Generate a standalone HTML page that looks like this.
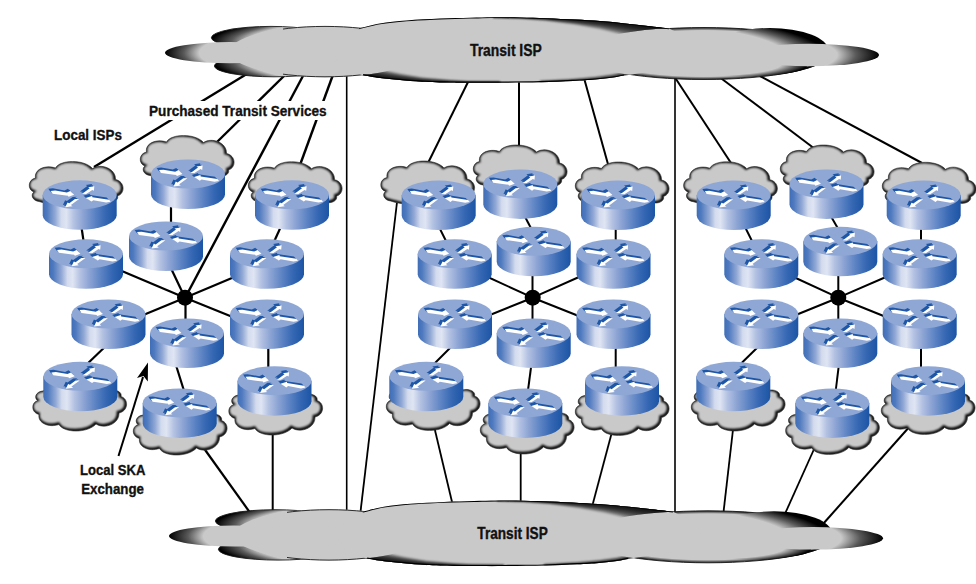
<!DOCTYPE html>
<html lang="en"><head><meta charset="utf-8"><title>Local SKA Exchange - Transit ISP diagram</title>
<style>
html,body{margin:0;padding:0;background:#fff;}
body{width:976px;height:584px;overflow:hidden;}
svg{display:block;}
text{font-family:"Liberation Sans",sans-serif;font-weight:bold;fill:#111;stroke:#111;stroke-width:0.35px;}
</style></head><body>
<svg width="976" height="584" viewBox="0 0 976 584">
<defs>
<linearGradient id="body" x1="0" y1="0" x2="1" y2="0">
<stop offset="0" stop-color="#3f6db7"/><stop offset="0.06" stop-color="#4f7abf"/>
<stop offset="0.17" stop-color="#93a9d6"/><stop offset="0.25" stop-color="#d3dbee"/>
<stop offset="0.32" stop-color="#dfe5f3"/><stop offset="0.42" stop-color="#b4c2e2"/>
<stop offset="0.55" stop-color="#8ba3d3"/><stop offset="0.7" stop-color="#5d84c4"/>
<stop offset="0.85" stop-color="#3567b3"/><stop offset="1" stop-color="#1c55a5"/>
</linearGradient>
<filter id="blur" x="-20%" y="-20%" width="140%" height="140%"><feGaussianBlur stdDeviation="1.3"/></filter>
<path id="cloudshape" d="M10,40 C3,39 1.5,33 5,30.5 C-2,28 -1,18 6.5,16.5 C5,8 16,3 26.5,6.5 C31,-2 55,-2.5 63.5,7 C72,1.5 87,7 86.5,18 C96,20 96.5,32 88.5,34.5 C90,39 83,42.5 76,40.5 C66,44 52,44 46,41.5 C36,44 22,44 10,40 Z"/>
<clipPath id="cloudclip"><use href="#cloudshape"/></clipPath>
<g id="cloud">
<use href="#cloudshape" fill="#c9c9c9"/>
<g clip-path="url(#cloudclip)"><use href="#cloudshape" fill="none" stroke="#000" stroke-width="3.2" filter="url(#blur)" transform="translate(-0.7,-0.6)"/></g>
<use href="#cloudshape" fill="none" stroke="#2a2a2a" stroke-width="0.6"/>
</g>
<g id="cloudf" transform="scale(1,-1)">
<use href="#cloudshape" fill="#c9c9c9"/>
<g clip-path="url(#cloudclip)"><use href="#cloudshape" fill="none" stroke="#000" stroke-width="3.2" filter="url(#blur)" transform="translate(-0.7,0.6)"/></g>
<use href="#cloudshape" fill="none" stroke="#2a2a2a" stroke-width="0.6"/>
</g>
<g id="arrows">
<polygon points="8,10.6 12.5,10.2 24.2,12.3 27.6,10.6 31.4,14.4 26,16.4 25,15.4 10,13.4"/>
<polygon points="39.6,13.5 43.4,13.6 49.6,9.6 51.2,10.4 51.6,6 45.4,7 47,8"/>
<polygon points="68,21.4 63.5,22.2 50.6,19.9 48.8,21.3 43,17.6 49.4,15.6 49.7,16.9 66.4,19.5"/>
<polygon points="36.4,18.7 32.3,18.8 26.6,23 24.8,22.1 22.6,26.9 29.8,25.9 28.2,24.8"/>
</g>
<g id="router">
<path d="M0,14.5 L0,35 A37,14.5 0 0 0 74,35 L74,14.5 Z" fill="url(#body)"/>
<ellipse cx="37" cy="14.5" rx="37" ry="14.5" fill="#8fa7d5"/>
<use href="#arrows" fill="#1f57a7" transform="translate(-2.4,-2.2)"/>
<use href="#arrows" fill="#1f57a7" transform="translate(-1.2,-1.1)"/>
<use href="#arrows" fill="#fff"/>
</g>

<radialGradient id="gUL" gradientUnits="userSpaceOnUse" cx="0" cy="0" r="1" gradientTransform="translate(430,42) scale(219,30)"><stop offset="0" stop-color="#c9c9c9"/><stop offset="0.83" stop-color="#c9c9c9"/><stop offset="0.906" stop-color="#5a5a5a"/><stop offset="1" stop-color="#000"/></radialGradient>
<radialGradient id="gLL" gradientUnits="userSpaceOnUse" cx="0" cy="0" r="1" gradientTransform="translate(430,62) scale(216,30)"><stop offset="0" stop-color="#c9c9c9"/><stop offset="0.83" stop-color="#c9c9c9"/><stop offset="0.906" stop-color="#5a5a5a"/><stop offset="1" stop-color="#000"/></radialGradient>
<radialGradient id="gML" gradientUnits="userSpaceOnUse" cx="0" cy="0" r="1" gradientTransform="translate(430,53) scale(265,40)"><stop offset="0" stop-color="#c9c9c9"/><stop offset="0.87" stop-color="#c9c9c9"/><stop offset="0.928" stop-color="#5a5a5a"/><stop offset="1" stop-color="#000"/></radialGradient>
<radialGradient id="gFR" gradientUnits="userSpaceOnUse" cx="0" cy="0" r="1" gradientTransform="translate(600,55) scale(279,40)"><stop offset="0" stop-color="#c9c9c9"/><stop offset="0.85" stop-color="#c9c9c9"/><stop offset="0.917" stop-color="#5a5a5a"/><stop offset="1" stop-color="#000"/></radialGradient>
<radialGradient id="gLB" gradientUnits="userSpaceOnUse" cx="0" cy="0" r="1" gradientTransform="translate(430,52) scale(205,29)"><stop offset="0" stop-color="#c9c9c9"/><stop offset="0.86" stop-color="#c9c9c9"/><stop offset="0.923" stop-color="#5a5a5a"/><stop offset="1" stop-color="#000"/></radialGradient>
<radialGradient id="gRE" gradientUnits="userSpaceOnUse" cx="0" cy="0" r="1" gradientTransform="translate(704,53.5) scale(126,26.4)"><stop offset="0" stop-color="#c9c9c9"/><stop offset="0.87" stop-color="#c9c9c9"/><stop offset="0.942" stop-color="#5a5a5a"/><stop offset="1" stop-color="#000"/></radialGradient>
<radialGradient id="gRE2" gradientUnits="userSpaceOnUse" cx="0" cy="0" r="1" gradientTransform="translate(640,60) scale(190,45)"><stop offset="0" stop-color="#c9c9c9"/><stop offset="0.79" stop-color="#c9c9c9"/><stop offset="0.895" stop-color="#5a5a5a"/><stop offset="1" stop-color="#000"/></radialGradient>
<radialGradient id="gLR" gradientUnits="userSpaceOnUse" cx="0" cy="0" r="1" gradientTransform="translate(700,64) scale(108,16)"><stop offset="0" stop-color="#c9c9c9"/><stop offset="0.75" stop-color="#c9c9c9"/><stop offset="0.887" stop-color="#5a5a5a"/><stop offset="1" stop-color="#000"/></radialGradient>
<linearGradient id="gREr" gradientUnits="userSpaceOnUse" x1="755" y1="0" x2="826" y2="0"><stop offset="0" stop-color="#000" stop-opacity="0"/><stop offset="0.45" stop-color="#000" stop-opacity="0.6"/><stop offset="1" stop-color="#000" stop-opacity="1"/></linearGradient>
<filter id="b1" x="-10%" y="-50%" width="120%" height="200%"><feGaussianBlur stdDeviation="0.6"/></filter>
<filter id="b3" x="-10%" y="-50%" width="120%" height="200%"><feGaussianBlur stdDeviation="1.0"/></filter>
<filter id="b2" x="-10%" y="-50%" width="120%" height="200%"><feGaussianBlur stdDeviation="1.6"/></filter>
<path id="cshape" d="M358.6,28.4 C362.2,27.6 372.0,24.7 380.0,23.4 C388.0,22.1 396.7,21.2 406.7,20.4 C416.7,19.6 429.4,19.1 440.0,18.6 C450.6,18.2 461.2,17.9 470.0,17.7 C478.8,17.5 484.7,17.2 493.0,17.2 C501.3,17.1 511.2,17.2 520.0,17.4 C528.8,17.6 536.8,17.8 546.0,18.2 C555.2,18.6 566.0,19.1 575.0,19.6 C584.0,20.1 591.7,20.5 600.0,21.1 C608.3,21.7 617.0,22.6 625.0,23.4 C633.0,24.2 640.7,25.2 648.0,26.0 C655.3,26.8 665.5,28.0 669.0,28.4 C672.2,30.0 683.5,34.1 688.0,38.0 C692.5,41.9 697.3,47.3 696.0,52.0 C694.7,56.7 692.0,62.1 680.0,66.0 C668.0,69.9 633.3,74.0 624.0,75.6 C622.2,75.9 617.8,76.9 613.0,77.6 C608.2,78.3 601.7,79.0 595.0,79.6 C588.3,80.2 582.2,80.5 573.0,81.0 C563.8,81.5 552.2,82.0 540.0,82.3 C527.8,82.6 512.2,82.7 500.0,82.8 C487.8,82.9 475.3,82.8 467.0,82.8 C458.7,82.8 457.5,82.8 450.0,82.6 C442.5,82.4 430.3,82.1 422.0,81.7 C413.7,81.3 407.0,80.6 400.0,80.0 C393.0,79.4 386.2,78.8 380.0,78.0 C373.8,77.2 365.8,75.8 363.0,75.3 C359.5,73.8 346.8,69.9 342.0,66.0 C337.2,62.1 334.0,56.7 334.0,52.0 C334.0,47.3 337.9,41.9 342.0,38.0 C346.1,34.1 355.8,30.0 358.6,28.4 Z"/>
<clipPath id="cclip"><use href="#cshape"/></clipPath>
<clipPath id="xr"><rect x="283" y="0" width="300" height="100"/></clipPath>
<clipPath id="notLL"><path clip-rule="evenodd" d="M0,0 H976 V100 H0 Z M230,51.6 a95,25.6 0 1,0 190,0 a95,25.6 0 1,0 -190,0 Z"/></clipPath>
<clipPath id="notRE"><path clip-rule="evenodd" d="M0,0 H976 V100 H0 Z M578,53.5 a126,26.4 0 1,0 252,0 a126,26.4 0 1,0 -252,0 Z"/></clipPath>
<g id="bigcloud">
<ellipse cx="704" cy="53.5" rx="125.6" ry="26" fill="url(#gRE)" stroke="#1a1a1a" stroke-width="0.9"/>
<ellipse cx="704" cy="53.5" rx="126" ry="26.4" fill="url(#gREr)"/>
<ellipse cx="770" cy="50" rx="58" ry="22" fill="url(#gRE2)"/>
<ellipse cx="745" cy="66" rx="62" ry="10" fill="url(#gLR)"/>
<ellipse cx="809" cy="55" rx="70" ry="11.2" fill="url(#gFR)"/>
<ellipse cx="271" cy="37.7" rx="59.6" ry="11.3" fill="url(#gUL)" stroke="#1a1a1a" stroke-width="0.9"/>
<ellipse cx="274" cy="66" rx="59.6" ry="10.8" fill="url(#gLL)" stroke="#1a1a1a" stroke-width="0.9"/>
<ellipse cx="325" cy="51.6" rx="95" ry="25.6" fill="#c9c9c9"/>
<ellipse cx="325" cy="51.6" rx="94.6" ry="25.2" fill="none" stroke="#1a1a1a" stroke-width="0.9" clip-path="url(#xr)"/>
<ellipse cx="230" cy="52.7" rx="65" ry="10.6" fill="url(#gML)"/>
<ellipse cx="300" cy="52.7" rx="60" ry="10.6" fill="#c9c9c9"/>
<use href="#cshape" fill="#c9c9c9"/>
<g clip-path="url(#cclip)">
<path d="M358.6,28.4 C362.2,27.6 372.0,24.7 380.0,23.4 C388.0,22.1 396.7,21.2 406.7,20.4 C416.7,19.6 429.4,19.1 440.0,18.6 C450.6,18.2 461.2,17.9 470.0,17.7 C478.8,17.5 484.7,17.2 493.0,17.2 C501.3,17.1 511.2,17.2 520.0,17.4 C528.8,17.6 536.8,17.8 546.0,18.2 C555.2,18.6 566.0,19.1 575.0,19.6 C584.0,20.1 591.7,20.5 600.0,21.1 C608.3,21.7 617.0,22.6 625.0,23.4 C633.0,24.2 640.7,25.2 648.0,26.0 C655.3,26.8 665.5,28.0 669.0,28.4" fill="none" stroke="#000" stroke-width="1.8" filter="url(#b1)"/>
<path d="M624.0,75.6 C622.2,75.9 617.8,76.9 613.0,77.6 C608.2,78.3 601.7,79.0 595.0,79.6 C588.3,80.2 582.2,80.5 573.0,81.0 C563.8,81.5 552.2,82.0 540.0,82.3 C527.8,82.6 512.2,82.7 500.0,82.8 C487.8,82.9 475.3,82.8 467.0,82.8 C458.7,82.8 457.5,82.8 450.0,82.6 C442.5,82.4 430.3,82.1 422.0,81.7 C413.7,81.3 407.0,80.6 400.0,80.0 C393.0,79.4 386.2,78.8 380.0,78.0 C373.8,77.2 365.8,75.8 363.0,75.3" fill="none" stroke="#000" stroke-width="2.4" filter="url(#b1)"/>
<g clip-path="url(#notRE)">
<path d="M493.0,14.2 C497.5,14.2 511.2,14.2 520.0,14.4 C528.8,14.6 536.8,14.8 546.0,15.2 C555.2,15.6 566.0,16.1 575.0,16.6 C584.0,17.1 591.7,17.5 600.0,18.1 C608.3,18.7 617.0,19.6 625.0,20.4 C633.0,21.2 640.7,22.2 648.0,23.0 C655.3,23.8 662.0,24.4 669.0,25.4 C676.0,26.4 686.5,28.4 690.0,29.0 L690.0,51.0 L669.0,44.9 L648.0,40.0 L625.0,34.9 L600.0,29.1 L575.0,24.6 L546.0,20.7 L520.0,18.6 L493.0,17.7 Z" fill="#000" fill-opacity="0.35" filter="url(#b3)"/>
<path d="M493.0,14.2 C497.5,14.2 511.2,14.2 520.0,14.4 C528.8,14.6 536.8,14.8 546.0,15.2 C555.2,15.6 566.0,16.1 575.0,16.6 C584.0,17.1 591.7,17.5 600.0,18.1 C608.3,18.7 617.0,19.6 625.0,20.4 C633.0,21.2 640.7,22.2 648.0,23.0 C655.3,23.8 662.0,24.4 669.0,25.4 C676.0,26.4 686.5,28.4 690.0,29.0 L690.0,46.8 L669.0,41.3 L648.0,36.9 L625.0,32.4 L600.0,27.3 L575.0,23.5 L546.0,20.1 L520.0,18.3 L493.0,17.6 Z" fill="#000" fill-opacity="0.35" filter="url(#b3)"/>
<path d="M493.0,14.2 C497.5,14.2 511.2,14.2 520.0,14.4 C528.8,14.6 536.8,14.8 546.0,15.2 C555.2,15.6 566.0,16.1 575.0,16.6 C584.0,17.1 591.7,17.5 600.0,18.1 C608.3,18.7 617.0,19.6 625.0,20.4 C633.0,21.2 640.7,22.2 648.0,23.0 C655.3,23.8 662.0,24.4 669.0,25.4 C676.0,26.4 686.5,28.4 690.0,29.0 L690.0,42.6 L669.0,37.6 L648.0,33.8 L625.0,29.8 L600.0,25.6 L575.0,22.4 L546.0,19.6 L520.0,18.1 L493.0,17.5 Z" fill="#000" fill-opacity="0.35" filter="url(#b3)"/>
<path d="M493.0,14.2 C497.5,14.2 511.2,14.2 520.0,14.4 C528.8,14.6 536.8,14.8 546.0,15.2 C555.2,15.6 566.0,16.1 575.0,16.6 C584.0,17.1 591.7,17.5 600.0,18.1 C608.3,18.7 617.0,19.6 625.0,20.4 C633.0,21.2 640.7,22.2 648.0,23.0 C655.3,23.8 662.0,24.4 669.0,25.4 C676.0,26.4 686.5,28.4 690.0,29.0 L690.0,38.8 L669.0,34.3 L648.0,31.0 L625.0,27.5 L600.0,24.0 L575.0,21.4 L546.0,19.1 L520.0,17.8 L493.0,17.4 Z" fill="#000" fill-opacity="0.35" filter="url(#b3)"/>
<path d="M493.0,14.2 C497.5,14.2 511.2,14.2 520.0,14.4 C528.8,14.6 536.8,14.8 546.0,15.2 C555.2,15.6 566.0,16.1 575.0,16.6 C584.0,17.1 591.7,17.5 600.0,18.1 C608.3,18.7 617.0,19.6 625.0,20.4 C633.0,21.2 640.7,22.2 648.0,23.0 C655.3,23.8 662.0,24.4 669.0,25.4 C676.0,26.4 686.5,28.4 690.0,29.0 L690.0,35.4 L669.0,31.4 L648.0,28.5 L625.0,25.5 L600.0,22.5 L575.0,20.5 L546.0,18.6 L520.0,17.6 L493.0,17.3 Z" fill="#000" fill-opacity="0.35" filter="url(#b3)"/>
<path d="M540.0,85.3 C545.5,85.1 563.8,84.5 573.0,84.0 C582.2,83.5 588.3,83.2 595.0,82.6 C601.7,82.0 608.2,81.3 613.0,80.6 C617.8,79.9 620.8,79.3 624.0,78.6 C627.2,77.9 630.7,76.8 632.0,76.5 L632.0,69.5 L624.0,72.0 L613.0,74.4 L595.0,77.0 L573.0,79.0 L540.0,80.8 Z" fill="#000" fill-opacity="0.5" filter="url(#b3)"/>
<path d="M540.0,85.3 C545.5,85.1 563.8,84.5 573.0,84.0 C582.2,83.5 588.3,83.2 595.0,82.6 C601.7,82.0 608.2,81.3 613.0,80.6 C617.8,79.9 620.8,79.3 624.0,78.6 C627.2,77.9 630.7,76.8 632.0,76.5 L632.0,71.1 L624.0,73.4 L613.0,75.7 L595.0,78.0 L573.0,79.8 L540.0,81.4 Z" fill="#000" fill-opacity="0.5" filter="url(#b3)"/>
</g>
<g clip-path="url(#notLL)">
<path d="M350.0,74.0 C352.2,74.7 358.0,77.1 363.0,78.3 C368.0,79.5 373.8,80.2 380.0,81.0 C386.2,81.8 393.0,82.4 400.0,83.0 C407.0,83.6 413.7,84.3 422.0,84.7 C430.3,85.1 442.5,85.4 450.0,85.6 C457.5,85.8 458.7,85.8 467.0,85.8 C475.3,85.8 494.5,85.8 500.0,85.8 L500.0,81.3 L467.0,81.0 L450.0,80.0 L422.0,77.5 L400.0,73.7 L380.0,69.5 L363.0,64.8 L350.0,59.0 Z" fill="#000" fill-opacity="0.4" filter="url(#b3)"/>
<path d="M350.0,74.0 C352.2,74.7 358.0,77.1 363.0,78.3 C368.0,79.5 373.8,80.2 380.0,81.0 C386.2,81.8 393.0,82.4 400.0,83.0 C407.0,83.6 413.7,84.3 422.0,84.7 C430.3,85.1 442.5,85.4 450.0,85.6 C457.5,85.8 458.7,85.8 467.0,85.8 C475.3,85.8 494.5,85.8 500.0,85.8 L500.0,81.7 L467.0,81.5 L450.0,80.6 L422.0,78.5 L400.0,75.3 L380.0,71.6 L363.0,67.4 L350.0,62.0 Z" fill="#000" fill-opacity="0.4" filter="url(#b3)"/>
<path d="M350.0,74.0 C352.2,74.7 358.0,77.1 363.0,78.3 C368.0,79.5 373.8,80.2 380.0,81.0 C386.2,81.8 393.0,82.4 400.0,83.0 C407.0,83.6 413.7,84.3 422.0,84.7 C430.3,85.1 442.5,85.4 450.0,85.6 C457.5,85.8 458.7,85.8 467.0,85.8 C475.3,85.8 494.5,85.8 500.0,85.8 L500.0,82.0 L467.0,81.9 L450.0,81.3 L422.0,79.6 L400.0,76.8 L380.0,73.8 L363.0,70.0 L350.0,65.0 Z" fill="#000" fill-opacity="0.4" filter="url(#b3)"/>
<path d="M350.0,74.0 C352.2,74.7 358.0,77.1 363.0,78.3 C368.0,79.5 373.8,80.2 380.0,81.0 C386.2,81.8 393.0,82.4 400.0,83.0 C407.0,83.6 413.7,84.3 422.0,84.7 C430.3,85.1 442.5,85.4 450.0,85.6 C457.5,85.8 458.7,85.8 467.0,85.8 C475.3,85.8 494.5,85.8 500.0,85.8 L500.0,82.4 L467.0,82.3 L450.0,81.9 L422.0,80.5 L400.0,78.2 L380.0,75.6 L363.0,72.4 L350.0,67.6 Z" fill="#000" fill-opacity="0.4" filter="url(#b3)"/>
</g>
</g></g>
</defs>
<rect width="976" height="584" fill="#fff"/>
<g stroke="#000" stroke-linecap="butt" fill="none">
<line x1="250" y1="72" x2="94" y2="167" stroke-width="2.4"/>
<line x1="286" y1="74" x2="216" y2="143" stroke-width="2.4"/>
<line x1="304" y1="74" x2="185" y2="298" stroke-width="2.4"/>
<line x1="334" y1="72" x2="300" y2="165" stroke-width="2.4"/>
<line x1="346.7" y1="70" x2="346.7" y2="515" stroke-width="1.6"/>
<line x1="79.7" y1="215" x2="85.3" y2="253" stroke-width="2.2"/>
<line x1="171" y1="200" x2="171" y2="230" stroke-width="2.2"/>
<line x1="283" y1="222" x2="273" y2="244" stroke-width="2.2"/>
<line x1="110" y1="266" x2="185" y2="297.7" stroke-width="2.2"/>
<line x1="168" y1="262" x2="185" y2="297.7" stroke-width="2.2"/>
<line x1="245" y1="272.5" x2="185" y2="297.7" stroke-width="2.2"/>
<line x1="185" y1="297.7" x2="130" y2="320.5" stroke-width="2.2"/>
<line x1="185.5" y1="297.7" x2="185.5" y2="325" stroke-width="2.2"/>
<line x1="185" y1="297.7" x2="245" y2="322" stroke-width="2.2"/>
<line x1="110" y1="342" x2="84" y2="367" stroke-width="2.2"/>
<line x1="175" y1="362" x2="185" y2="394" stroke-width="2.2"/>
<line x1="268.3" y1="340" x2="268.3" y2="372" stroke-width="2.2"/>
<line x1="203" y1="447" x2="251" y2="514" stroke-width="2.2"/>
<line x1="272.7" y1="430" x2="272.7" y2="515" stroke-width="2.0"/>
<line x1="470" y1="78" x2="428" y2="163" stroke-width="2.0"/>
<line x1="519" y1="78" x2="519" y2="148" stroke-width="2.0"/>
<line x1="584" y1="78" x2="608.5" y2="166" stroke-width="2.0"/>
<line x1="397.5" y1="198" x2="360" y2="516" stroke-width="1.8"/>
<line x1="675" y1="70" x2="675" y2="515" stroke-width="1.6"/>
<line x1="437" y1="223" x2="447" y2="243" stroke-width="2.0"/>
<line x1="523" y1="213" x2="533" y2="232" stroke-width="2.0"/>
<line x1="615.7" y1="222" x2="615.7" y2="245" stroke-width="2.0"/>
<line x1="479" y1="273" x2="532.7" y2="297.7" stroke-width="2.0"/>
<line x1="532.5" y1="270" x2="532.5" y2="325" stroke-width="2.0"/>
<line x1="588" y1="273" x2="532.7" y2="297.7" stroke-width="2.0"/>
<line x1="532.7" y1="297.7" x2="480" y2="319" stroke-width="2.0"/>
<line x1="532.7" y1="297.7" x2="590" y2="320.5" stroke-width="2.0"/>
<line x1="456" y1="342" x2="430" y2="368" stroke-width="2.0"/>
<line x1="532" y1="360" x2="527.5" y2="394" stroke-width="2.0"/>
<line x1="615.7" y1="340" x2="615.7" y2="372" stroke-width="2.0"/>
<line x1="433.5" y1="424" x2="452.5" y2="504" stroke-width="1.8"/>
<line x1="520.7" y1="448" x2="520.7" y2="505" stroke-width="1.8"/>
<line x1="612.5" y1="430" x2="592.5" y2="505" stroke-width="1.8"/>
<line x1="674" y1="76" x2="731" y2="163" stroke-width="2.0"/>
<line x1="720" y1="77.5" x2="815" y2="149" stroke-width="2.0"/>
<line x1="760" y1="76" x2="922" y2="163" stroke-width="2.0"/>
<line x1="743" y1="223" x2="753" y2="243" stroke-width="2.0"/>
<line x1="829" y1="213" x2="840" y2="232" stroke-width="2.0"/>
<line x1="921" y1="222" x2="921" y2="245" stroke-width="2.0"/>
<line x1="786" y1="273.5" x2="838.3" y2="297.7" stroke-width="2.0"/>
<line x1="838.3" y1="270" x2="838.3" y2="325" stroke-width="2.0"/>
<line x1="894" y1="273.5" x2="838.3" y2="297.7" stroke-width="2.0"/>
<line x1="838.3" y1="297.7" x2="786" y2="319" stroke-width="2.0"/>
<line x1="838.3" y1="297.7" x2="896" y2="321" stroke-width="2.0"/>
<line x1="762" y1="343" x2="736" y2="368.5" stroke-width="2.0"/>
<line x1="839.5" y1="360" x2="835.3" y2="394" stroke-width="2.0"/>
<line x1="921" y1="340" x2="921" y2="372" stroke-width="2.0"/>
<line x1="733.3" y1="427" x2="723.3" y2="514" stroke-width="1.8"/>
<line x1="815" y1="447" x2="784" y2="516" stroke-width="1.8"/>
<line x1="911" y1="425" x2="823" y2="524" stroke-width="2.0"/>
</g>
<line x1="118.5" y1="456" x2="143" y2="377" stroke="#000" stroke-width="2"/>
<polygon points="148,362.5 147.8,381.5 143.5,376 137,378" fill="#000"/>
<use href="#bigcloud"/>
<use href="#bigcloud" transform="translate(4,483.3)"/>
<rect x="146" y="101" width="184" height="19" fill="#fff"/>
<use href="#cloud" transform="translate(29,161.5)"/>
<use href="#cloud" transform="translate(140,135.5)"/>
<use href="#cloud" transform="translate(248,161.7)"/>
<use href="#cloud" transform="translate(380.5,161)"/>
<use href="#cloud" transform="translate(473,145)"/>
<use href="#cloud" transform="translate(575,162)"/>
<use href="#cloud" transform="translate(683.3,161.7)"/>
<use href="#cloud" transform="translate(780,145)"/>
<use href="#cloud" transform="translate(882,162.3)"/>
<use href="#cloudf" transform="translate(32.5,431)"/>
<use href="#cloudf" transform="translate(133,455)"/>
<use href="#cloudf" transform="translate(228.5,435)"/>
<use href="#cloudf" transform="translate(386,430.5)"/>
<use href="#cloudf" transform="translate(480,454)"/>
<use href="#cloudf" transform="translate(575,435.5)"/>
<use href="#cloudf" transform="translate(691,431)"/>
<use href="#cloudf" transform="translate(785.3,454.5)"/>
<use href="#cloudf" transform="translate(881,434.5)"/>
<use href="#router" transform="translate(42.7,180.3)"/>
<use href="#router" transform="translate(151,159.5)"/>
<use href="#router" transform="translate(255,180.3)"/>
<use href="#router" transform="translate(49,239.3)"/>
<use href="#router" transform="translate(129,221.5)"/>
<use href="#router" transform="translate(230,239.3)"/>
<use href="#router" transform="translate(71.5,299.5)"/>
<use href="#router" transform="translate(150,318.5)"/>
<use href="#router" transform="translate(230,299.5)"/>
<use href="#router" transform="translate(43.3,361.8)"/>
<use href="#router" transform="translate(142.7,388.4)"/>
<use href="#router" transform="translate(237.5,366.2)"/>
<use href="#router" transform="translate(401.7,180.6)"/>
<use href="#router" transform="translate(483.3,169.4)"/>
<use href="#router" transform="translate(581,180.6)"/>
<use href="#router" transform="translate(417.7,239.3)"/>
<use href="#router" transform="translate(496.7,226.8)"/>
<use href="#router" transform="translate(576.5,239.3)"/>
<use href="#router" transform="translate(418,299.5)"/>
<use href="#router" transform="translate(496.7,318.5)"/>
<use href="#router" transform="translate(576.5,299.5)"/>
<use href="#router" transform="translate(389.3,361.8)"/>
<use href="#router" transform="translate(488.3,388.4)"/>
<use href="#router" transform="translate(585,366.2)"/>
<use href="#router" transform="translate(696.7,180.6)"/>
<use href="#router" transform="translate(789.5,169.4)"/>
<use href="#router" transform="translate(886.7,180.6)"/>
<use href="#router" transform="translate(724.3,239.3)"/>
<use href="#router" transform="translate(803.3,226.8)"/>
<use href="#router" transform="translate(882.7,239.3)"/>
<use href="#router" transform="translate(724.3,299.5)"/>
<use href="#router" transform="translate(803.3,318.5)"/>
<use href="#router" transform="translate(882.7,299.5)"/>
<use href="#router" transform="translate(696.3,361.8)"/>
<use href="#router" transform="translate(795.3,388.4)"/>
<use href="#router" transform="translate(891,366.2)"/>
<circle cx="185" cy="297.7" r="8" fill="#000"/>
<circle cx="532.7" cy="297.7" r="8" fill="#000"/>
<circle cx="838.3" cy="297.7" r="8" fill="#000"/>
<text transform="translate(470,55.7) scale(0.8682,1)" font-size="16">Transit ISP</text>
<text transform="translate(477.3,538.5) scale(0.8525,1)" font-size="16">Transit ISP</text>
<text transform="translate(149,115.7) scale(0.8777,1)" font-size="15.5">Purchased Transit Services</text>
<text transform="translate(54,140) scale(0.8673,1)" font-size="15.5">Local ISPs</text>
<text transform="translate(80,474.7) scale(0.8849,1)" font-size="14.8">Local SKA</text>
<text transform="translate(81.2,493.8) scale(0.8980,1)" font-size="14.8">Exchange</text>
</svg>
</body></html>
